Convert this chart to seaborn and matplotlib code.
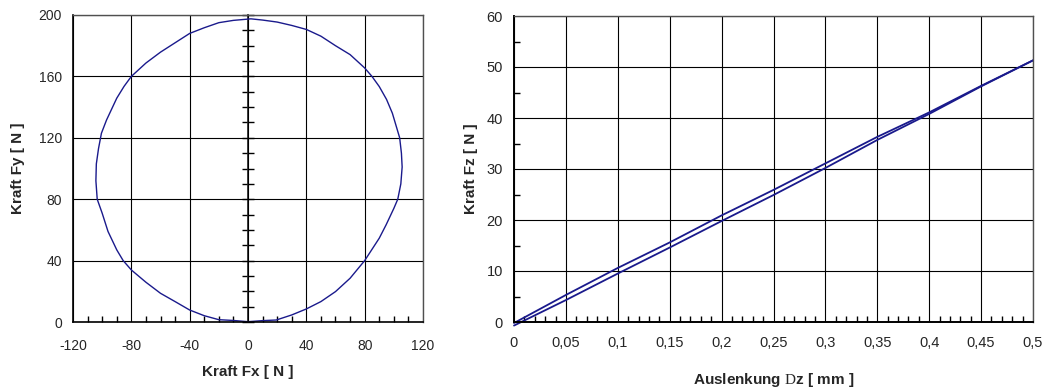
import numpy as np
import pandas as pd
import matplotlib
matplotlib.use("Agg")
import matplotlib.pyplot as plt
import seaborn as sns
from matplotlib.ticker import MultipleLocator

# ---- Data: left chart (Fx/Fy trace) ----
fx = [0, 10, 19.4, 30, 40, 50, 60, 70, 80, 90, 94.7, 100, 102.7, 104.8, 105.7,
      105.2, 104, 101.5, 99, 95, 90, 85, 80, 70, 60, 50, 40, 30, 20, 10, 2,
      -10, -20, -30, -40, -50, -60, -70, -80, -85, -90, -97, -100.5, -102.5,
      -104, -104.3, -103.4, -100, -96, -90, -85.6, -80, -70, -60, -50, -40,
      -30, -20, -10, 0]
fy = [0.2, 0.9, 1.3, 4.6, 8.5, 13.3, 19.8, 28.5, 40, 54.6, 63.3, 74, 80, 90,
      101, 110, 120, 128, 136, 145, 153.4, 160, 165.5, 174.2, 180, 186.2,
      190.6, 193.2, 195.4, 196.7, 197.5, 196.5, 195, 191.7, 188, 181.9, 175.8,
      168.7, 160, 153.5, 145.8, 131.6, 123, 113, 103, 92, 80, 70.9, 59, 47,
      40, 33.9, 25.9, 18.7, 13.3, 7.8, 4.1, 1.5, 1.0, 0.2]

# ---- Data: right chart (Fz over Dz) ----
dz = [0, 0.05, 0.1, 0.15, 0.2, 0.25, 0.3, 0.35, 0.4, 0.45, 0.5]
fz_upper = [-0.2, 5.3, 10.6, 15.6, 20.9, 25.9, 31.1, 36.3, 41.1, 46.3, 51.3]
fz_lower = [-0.7, 4.3, 9.5, 14.6, 19.8, 24.9, 30.2, 35.7, 40.8, 46.2, 51.3]

left_xticks = [-120, -80, -40, 0, 40, 80, 120]
left_yticks = [0, 40, 80, 120, 160, 200]
right_xticks = [0, 0.05, 0.1, 0.15, 0.2, 0.25, 0.3, 0.35, 0.4, 0.45, 0.5]
right_xticklabels = ["0", "0,05", "0,1", "0,15", "0,2", "0,25", "0,3",
                     "0,35", "0,4", "0,45", "0,5"]
right_yticks = [0, 10, 20, 30, 40, 50, 60]

LINE = "#1a1a8c"

sns.set_theme(style="white")
plt.rcParams["font.family"] = ["Liberation Sans", "DejaVu Sans"]
plt.rcParams["mathtext.fontset"] = "custom"
plt.rcParams["mathtext.rm"] = "Liberation Serif"
plt.rcParams["axes.unicode_minus"] = False

W, H = 1048, 390
fig = plt.figure(figsize=(W / 100, H / 100), dpi=100)
ax1 = fig.add_axes([73 / W, 1 - 322 / H, (423 - 73) / W, (322 - 15) / H])
ax2 = fig.add_axes([514 / W, 1 - 322 / H, (1033 - 514) / W, (322 - 16) / H])

# ---------- Left chart ----------
circ = pd.DataFrame({"Fx": fx, "Fy": fy})
sns.lineplot(data=circ, x="Fx", y="Fy", sort=False, estimator=None,
             color=LINE, linewidth=1.0, ax=ax1)
ax1.set_xlim(-120, 120)
ax1.set_ylim(0, 200)
ax1.set_xticks(left_xticks)
ax1.set_yticks(left_yticks)
ax1.xaxis.set_minor_locator(MultipleLocator(10))
ax1.grid(True, which="major", color="black", linewidth=0.8)
ax1.tick_params(axis="x", which="major", direction="inout", length=8,
                width=1, color="black", labelsize=10, pad=8)
ax1.tick_params(axis="x", which="minor", direction="in", length=4,
                width=1, color="black", bottom=True)
ax1.tick_params(axis="y", which="major", length=0, labelsize=10, pad=8)
ax1.set_xlabel("Kraft Fx [ N ]", fontsize=11, fontweight="bold", labelpad=9)
ax1.set_ylabel("Kraft Fy [ N ]", fontsize=11, fontweight="bold", labelpad=10)
for s in ["top", "right"]:
    ax1.spines[s].set_color("#505050")
    ax1.spines[s].set_linewidth(1.0)
for s in ["left", "bottom"]:
    ax1.spines[s].set_color("black")
    ax1.spines[s].set_linewidth(1.2)
# vertical axis crossing at Fx = 0 with ticks every 10 N
sec = ax1.secondary_yaxis(0.5)
sec.set_yticks(left_yticks)
sec.yaxis.set_minor_locator(MultipleLocator(10))
sec.tick_params(axis="y", which="both", direction="inout", length=9,
                width=1, color="black", labelleft=False, labelright=False)
sec.spines["left"].set_color("black")
sec.spines["left"].set_linewidth(1.2)

# ---------- Right chart ----------
df_up = pd.DataFrame({"dz": dz, "fz": fz_upper})
df_lo = pd.DataFrame({"dz": dz, "fz": fz_lower})
sns.lineplot(data=df_up, x="dz", y="fz", sort=False, estimator=None,
             color=LINE, linewidth=1.3, ax=ax2)
sns.lineplot(data=df_lo, x="dz", y="fz", sort=False, estimator=None,
             color=LINE, linewidth=1.3, ax=ax2)
for ln in ax2.lines:
    ln.set_clip_on(False)
ax2.set_xlim(0, 0.5)
ax2.set_ylim(0, 60)
ax2.set_xticks(right_xticks)
ax2.set_xticklabels(right_xticklabels)
ax2.set_yticks(right_yticks)
ax2.xaxis.set_minor_locator(MultipleLocator(0.01))
ax2.yaxis.set_minor_locator(MultipleLocator(5))
ax2.grid(True, which="major", color="black", linewidth=0.8)
ax2.tick_params(axis="both", which="major", direction="inout", length=8,
                width=1, color="black", labelsize=10.5)
ax2.tick_params(axis="x", which="major", pad=6)
ax2.tick_params(axis="y", which="major", pad=4)
ax2.tick_params(axis="both", which="minor", direction="in", length=4,
                width=1, color="black", bottom=True, left=True)
ax2.set_xlabel(r"Auslenkung $\mathrm{D}$z [ mm ]", fontsize=11,
               fontweight="bold", labelpad=15)
ax2.set_ylabel("Kraft Fz [ N ]", fontsize=11, fontweight="bold", labelpad=6)
for s in ["top", "right"]:
    ax2.spines[s].set_color("#505050")
    ax2.spines[s].set_linewidth(1.0)
for s in ["left", "bottom"]:
    ax2.spines[s].set_color("black")
    ax2.spines[s].set_linewidth(1.4)

fig.savefig("out.png", dpi=100)
